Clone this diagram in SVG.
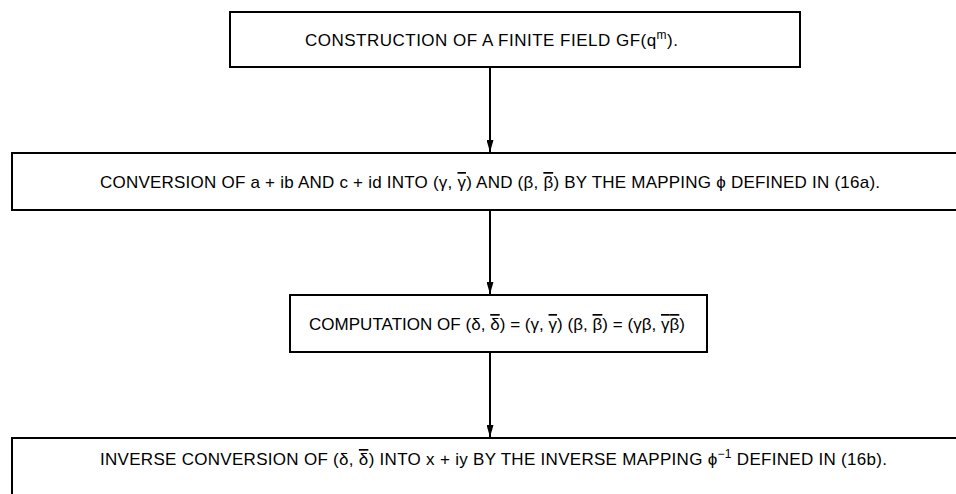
<svg xmlns="http://www.w3.org/2000/svg" width="956" height="494" viewBox="0 0 956 494">
<defs>
<style>
.box{fill:#fff;stroke:#000;stroke-width:2}
.t{font-family:"Liberation Sans",Arial,sans-serif;font-size:17px;fill:#000;text-anchor:middle}
.ov{text-decoration:overline}
.sup{font-size:12px}
.con{stroke:#000;stroke-width:2;fill:none}
</style>
<marker id="ah" markerWidth="12" markerHeight="7" refX="12" refY="3.5" orient="auto" markerUnits="userSpaceOnUse" viewBox="0 0 12 7">
<path d="M0,0 L12,3.5 L0,7 Z" fill="#000"/>
</marker>
</defs>
<rect width="956" height="494" fill="#fff"/>
<g id="n1">
<rect class="box" x="230" y="12" width="570" height="55"/>
<text class="t" x="491.5" y="46" textLength="373" lengthAdjust="spacing">CONSTRUCTION OF A FINITE FIELD GF(q<tspan class="sup" dy="-7">m</tspan><tspan dy="7">).</tspan></text>
</g>
<g id="n2">
<rect class="box" x="12" y="153" width="960" height="57"/>
<text class="t" x="490" y="188" textLength="780" lengthAdjust="spacing">CONVERSION OF a + ib AND c + id INTO (γ, <tspan class="ov">γ</tspan>) AND (β, <tspan class="ov">β</tspan>) BY THE MAPPING ϕ DEFINED IN (16a).</text>
</g>
<g id="n3">
<rect class="box" x="290" y="295" width="417" height="57"/>
<text class="t" x="497" y="330" textLength="376" lengthAdjust="spacing">COMPUTATION OF (δ, <tspan class="ov">δ</tspan>) = (γ, <tspan class="ov">γ</tspan>) (β, <tspan class="ov">β</tspan>) = (γβ, <tspan class="ov">γβ</tspan>)</text>
</g>
<g id="n4">
<rect class="box" x="12" y="438" width="960" height="80"/>
<text class="t" x="493.5" y="465" textLength="787" lengthAdjust="spacing">INVERSE CONVERSION OF (δ, <tspan class="ov">δ</tspan>) INTO x + iy BY THE INVERSE MAPPING ϕ<tspan class="sup" dy="-7">−1</tspan><tspan dy="7"> DEFINED IN (16b).</tspan></text>
</g>
<g id="connectors">
<line class="con" x1="490" y1="67" x2="490" y2="152" marker-end="url(#ah)"/>
<line class="con" x1="490" y1="210" x2="490" y2="294" marker-end="url(#ah)"/>
<line class="con" x1="490" y1="352" x2="490" y2="437" marker-end="url(#ah)"/>
</g>
</svg>
